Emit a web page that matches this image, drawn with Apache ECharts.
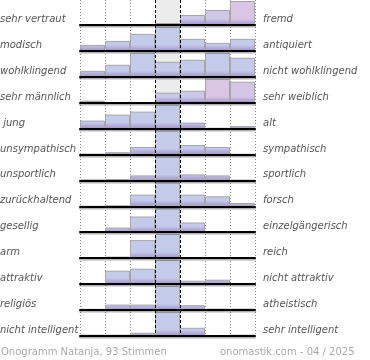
<!DOCTYPE html>
<html><head><meta charset="utf-8">
<script src="https://cdn.jsdelivr.net/npm/echarts@6/dist/echarts.min.js"></script>
<style>html,body{margin:0;padding:0;background:#fff}#c{width:370px;height:360px}</style>
</head><body><div id="c"></div>
<script>
const categories = ['1','2','3','4','5','6','7'];
const leftLabels = ['sehr vertraut','modisch','wohlklingend','sehr männlich',' jung','unsympathisch','unsportlich','zurückhaltend','gesellig','arm','attraktiv','religiös','nicht intelligent'];
const rightLabels = ['fremd','antiquiert','nicht wohlklingend','sehr weiblich','alt','sympathisch','sportlich','forsch','einzelgängerisch','reich','nicht attraktiv','atheistisch','sehr intelligent'];

const vertrautFremd = [0,0,0,2,10,15,24];
const modischAntiquiert = [6,10,17,24,12,8,12];
const wohlklingend = [6,12,24,15,17,24,19];
const maennlichWeiblich = [2,0,0,10,12,24,21];
const jungAlt = [8,14,17,24,6,0.5,2.5];
const sympathisch = [0.5,2.3,7.5,24,9.5,7.5,0.3];
const sportlich = [0.7,1.3,5,24,6,5,0.3];
const zurueckhaltendForsch = [0,0.7,11.7,24,11.7,10,3.3];
const geselligEinzelgaenger = [1,4.7,15.7,24,9.7,1,0.3];
const armReich = [1,1.5,18,24,0,0.7,0.7];
const attraktiv = [1,13.3,15.3,24,3.3,4.3,0.7];
const religioesAtheistisch = [1,5.3,5.3,24,4.7,1.3,1.3];
const intelligent = [1,1,3,24,8,0.3,1];
// share of pink (female-leaning) tint per cell: [row, column, share]
const pinkShare = [[0,4,0.3],[0,5,0.45],[0,6,0.85],[3,3,0.2],[3,4,0.3],[3,5,0.85],[3,6,0.65]];

const footerLeft = 'Onogramm Natanja, 93 Stimmen';
const footerRight = 'onomastik.com - 04 / 2025';

const rows = [vertrautFremd, modischAntiquiert, wohlklingend, maennlichWeiblich, jungAlt, sympathisch, sportlich, zurueckhaltendForsch, geselligEinzelgaenger, armReich, attraktiv, religioesAtheistisch, intelligent];

const GL = 80, GW = 175, ROWH = 24, STEP = 25.9, TOP0 = 1;
const blue = [196,203,234], pink = [222,196,228];
function mix(a,b,t){return 'rgb('+a.map((v,i)=>Math.round(v+(b[i]-v)*t)).join(',')+')';}
function tintOf(r,c){const f=pinkShare.find(p=>p[0]===r&&p[1]===c);return f?f[2]:0;}
const T='rgba(0,0,0,0)', G='#8a8a8a';

const grids=[{left:GL,width:GW,top:0,height:TOP0+12*STEP+ROWH}];
const xAxes=[
  {gridIndex:0,type:'value',min:0,max:7,interval:1,axisLine:{show:false},axisTick:{show:false},axisLabel:{show:false},
   splitLine:{show:true,lineStyle:{color:[G,G,G,T,T,G,G,G],type:[1,2],width:1}},
   splitArea:{show:true,areaStyle:{color:[T,T,T,'#ececec',T,T,T]}}},
  {gridIndex:0,type:'value',min:0,max:7,interval:1,z:10,position:'top',axisLine:{show:false},axisTick:{show:false},axisLabel:{show:false},
   splitLine:{show:true,lineStyle:{color:[T,T,T,'#000','#000',T,T,T],type:[3,2],width:1}}}
];
const yAxes=[{gridIndex:0,type:'value',min:0,max:1,show:false}];
const series=[];
const graphics=[];

rows.forEach((vals,r)=>{
  const gi=r+1;
  const top=TOP0+r*STEP;
  const rmax=Math.max(...vals);
  grids.push({left:GL,width:GW,top:top,height:ROWH});
  xAxes.push({gridIndex:gi,type:'category',data:categories,z:6,axisLine:{show:true,lineStyle:{color:'#000',width:2,shadowColor:'rgba(0,0,0,0.3)',shadowOffsetY:1.5,shadowBlur:0}},axisTick:{show:false},axisLabel:{show:false},splitLine:{show:false}});
  yAxes.push({gridIndex:gi,type:'value',min:0,max:rmax,show:false});
  series.push({type:'bar',xAxisIndex:xAxes.length-1,yAxisIndex:gi,barCategoryGap:'0%',z:3,
    data:vals.map((v,c)=>{
      const hpx=v/rmax*ROWH;
      const s=hpx>6?1-6/hpx:0;
      const topCol=mix(blue,pink,tintOf(r,c));
      return {value:v,itemStyle:{color:{type:'linear',x:0,y:0,x2:0,y2:1,colorStops:[{offset:0,color:topCol},{offset:s,color:topCol},{offset:1,color:'#a391cc'}]},borderColor:'#a6a6a6',borderWidth:1}};
    })});
  const cy=top+ROWH-4.5;
  graphics.push({type:'text',left:0,top:cy-6,style:{text:leftLabels[r],font:'italic 10px "DejaVu Sans"',fill:'#555'}});
  graphics.push({type:'text',left:263,top:cy-6,style:{text:rightLabels[r],font:'italic 10px "DejaVu Sans"',fill:'#555'}});
});
graphics.push({type:'text',left:1,top:347,style:{text:footerLeft,font:'10px "DejaVu Sans"',fill:'#aaa'}});
graphics.push({type:'text',left:220,top:347,style:{text:footerRight,font:'10px "DejaVu Sans"',fill:'#aaa'}});

const chart=echarts.init(document.getElementById('c'));
chart.setOption({animation:false,grid:grids,xAxis:xAxes,yAxis:yAxes,series:series,graphic:graphics});
</script></body></html>
